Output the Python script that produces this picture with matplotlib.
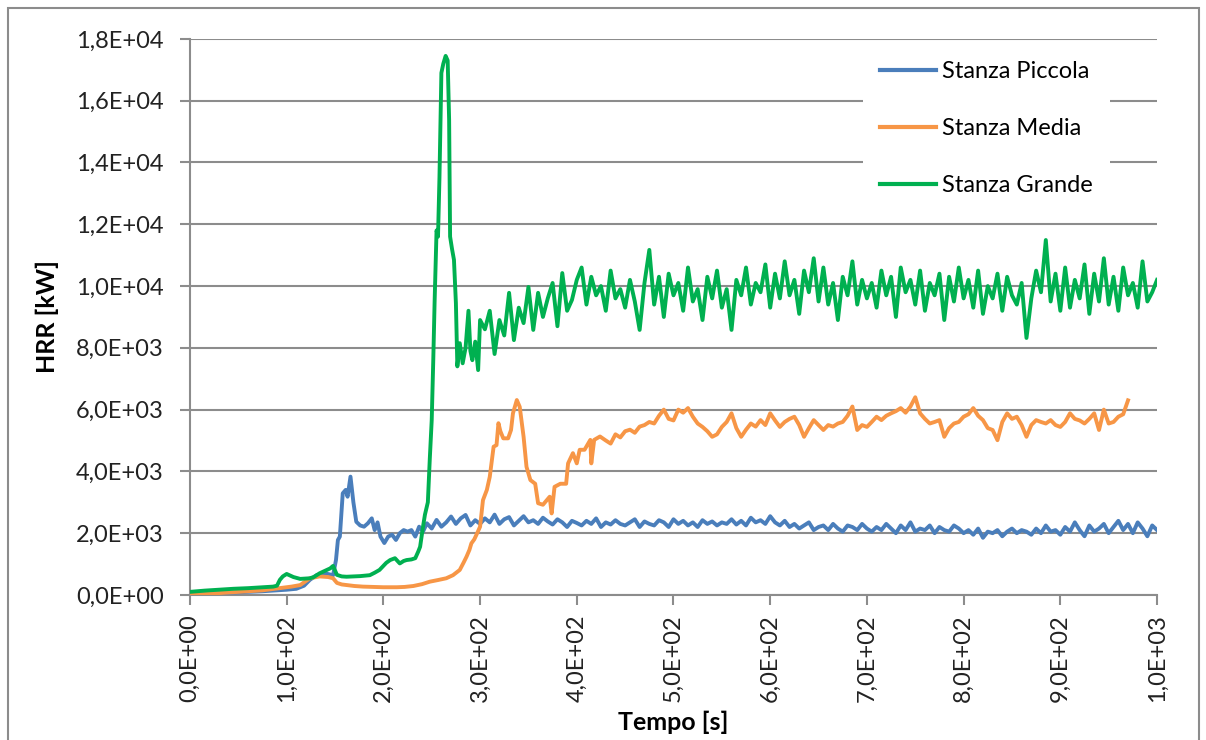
import matplotlib
matplotlib.use("Agg")
import matplotlib.pyplot as plt
from matplotlib.patches import Rectangle
from matplotlib.ticker import FuncFormatter, MultipleLocator
import numpy as np

plt.rcParams['font.family'] = ['Lato', 'DejaVu Sans']

# HRR curves [kW] vs time [s]; each series = detailed start + regular 5 s tail
# Stanza Piccola
t_piccola_a = [0, 15, 30, 45, 60, 75, 90, 100, 110, 118, 124, 131, 141, 148, 151,
               153, 155, 158, 161, 163, 166, 169, 172, 176, 180, 184, 188, 191, 194,
               197, 201, 205, 209, 213, 217, 221, 225, 229, 233, 237, 241, 245, 250]
hrr_piccola_a = [0, 30, 55, 80, 100, 120, 150, 170, 200, 300, 490, 640, 690, 640, 1130,
                 1780, 1890, 3290, 3400, 3180, 3830, 3000, 2370, 2250, 2210, 2320, 2480, 2100, 2350,
                 1890, 1680, 1890, 1950, 1780, 2000, 2100, 2050, 2100, 1890, 2210, 2050, 2320, 2150]
hrr_piccola_b = [
    2430, 2210, 2350, 2540, 2300, 2480, 2590, 2250, 2420, 2300,
    2480, 2350, 2600, 2300, 2450, 2520, 2250, 2400, 2550, 2350,
    2420, 2300, 2500, 2380, 2280, 2450, 2350, 2200, 2400, 2330,
    2250, 2400, 2300, 2480, 2200, 2350, 2280, 2420, 2300, 2250,
    2350, 2450, 2200, 2380, 2300, 2250, 2420, 2350, 2200, 2450,
    2300, 2400, 2250, 2350, 2200, 2420, 2300, 2380, 2250, 2350,
    2300, 2450, 2280, 2400, 2250, 2500, 2350, 2420, 2300, 2550,
    2350, 2250, 2400, 2200, 2300, 2150, 2250, 2350, 2100, 2200,
    2250, 2100, 2300, 2150, 2050, 2250, 2200, 2100, 2300, 2150,
    2050, 2200, 2100, 2300, 2150, 2000, 2250, 2100, 2350, 2050,
    2150, 2100, 2250, 2000, 2200, 2100, 2050, 2250, 2150, 2000,
    2100, 1950, 2150, 1850, 2050, 2000, 2100, 1900, 2050, 2150,
    2000, 2100, 2050, 1950, 2150, 2000, 2250, 2050, 2100, 1950,
    2200, 2050, 2350, 2100, 1900, 2250, 2050, 2150, 2300, 2000,
    2200, 2400, 2100, 2300, 2000, 2350, 2150, 1900, 2250, 2100,
]
t_piccola_b = np.arange(255, 1001, 5)

# Stanza Media
t_media_a = [0, 15, 30, 45, 60, 75, 93, 105, 114, 124, 134, 143, 148, 152, 157, 162,
             170, 179, 190, 200, 214, 222, 231, 240, 248, 256, 265, 272, 279, 283, 286,
             289, 291, 294, 297, 300, 303, 307, 310, 314, 317, 319, 321, 324, 329, 332,
             334, 338, 341, 345, 348, 352, 357, 360, 365, 369, 372, 374, 377, 383, 389,
             391, 396, 400, 403, 408, 414, 415, 418, 424]
hrr_media_a = [0, 30, 60, 90, 120, 150, 220, 270, 320, 540, 600, 580, 540, 390, 340, 320,
               290, 270, 260, 250, 250, 260, 290, 350, 430, 480, 540, 640, 810, 1050, 1240,
               1460, 1670, 1800, 2000, 2210, 3070, 3400, 3820, 4800, 4850, 5560, 5300, 5070, 5070, 5340,
               5880, 6310, 6090, 5120, 4150, 3720, 3600, 2970, 2920, 3070, 3180, 2640, 3500, 3600, 3600,
               4260, 4590, 4260, 4700, 4700, 5020, 4260, 5020, 5130]
hrr_media_b = [
    5000, 4900, 5200, 5100, 5300, 5350, 5250, 5450, 5500, 5600,
    5550, 5800, 6000, 5700, 5650, 6000, 5900, 6050, 5770, 5550,
    5440, 5300, 5120, 5200, 5440, 5600, 5880, 5400, 5120, 5350,
    5550, 5450, 5660, 5500, 5880, 5650, 5440, 5600, 5700, 5770,
    5500, 5120, 5400, 5660, 5500, 5340, 5500, 5450, 5550, 5600,
    5800, 6100, 5340, 5500, 5440, 5600, 5770, 5660, 5800, 5880,
    5950, 6050, 5900, 6100, 6400, 5880, 5700, 5550, 5600, 5660,
    5120, 5400, 5550, 5600, 5770, 5850, 6050, 5800, 5660, 5400,
    5340, 5010, 5600, 5880, 5700, 5770, 5500, 5120, 5500, 5660,
    5600, 5550, 5660, 5500, 5440, 5600, 5880, 5700, 5650, 5550,
    5700, 5880, 5340, 6000, 5550, 5600, 5770, 5850, 6300,
]
t_media_b = np.arange(430, 971, 5)

# Stanza Grande
t_grande_a = [0, 15, 30, 45, 60, 75, 86, 90, 93, 96,
              100, 107, 114, 124, 128, 134, 141, 145, 148, 152,
              157, 162, 170, 176, 186, 191, 196, 203, 207, 212,
              217, 221, 224, 229, 233, 236, 238, 241, 243, 246,
              248, 250, 251.6, 253, 255, 256.5, 258, 260, 262, 264.4,
              266.5, 268, 269, 271, 273, 275, 276.5, 279, 282, 285,
              288, 290, 292, 295, 298, 300]
hrr_grande_a = [100, 140, 170, 200, 220, 250, 270, 300, 490, 600,
                680, 580, 520, 540, 580, 700, 800, 860, 940, 650,
                600, 590, 600, 610, 640, 720, 810, 1040, 1130, 1190,
                1020, 1100, 1130, 1150, 1190, 1400, 1560, 2210, 2600, 3000,
                4400, 5660, 7600, 9500, 11800, 11600, 13500, 16900, 17200, 17450,
                17300, 15380, 11600, 11200, 10850, 9450, 7400, 8150, 7500, 8000,
                9200, 7900, 7600, 8200, 7280, 8900]
hrr_grande_b = [
    8600, 9200, 7800, 8900, 8400, 9780, 8250, 9300, 8800, 9970,
    8580, 9780, 9000, 9600, 10100, 8700, 10420, 9200, 9550, 10200,
    10600, 9400, 10300, 9700, 10000, 9200, 10500, 9600, 9900, 9300,
    10200, 9500, 8580, 10100, 11170, 9400, 10300, 9000, 10400, 9700,
    10100, 9200, 10600, 9500, 9900, 8900, 10300, 9600, 10500, 9300,
    9900, 8580, 10200, 9700, 10600, 9400, 10100, 9800, 10700, 9300,
    10400, 9600, 10800, 9700, 10200, 9100, 10500, 9800, 10900, 9500,
    10600, 9400, 10100, 8900, 10300, 9700, 10800, 9400, 10200, 9600,
    10100, 9300, 10500, 9700, 10300, 9000, 10600, 9800, 10200, 9400,
    10500, 9200, 10100, 9700, 10400, 8900, 10300, 9500, 10600, 9600,
    10200, 9300, 10500, 9100, 10000, 9600, 10400, 9200, 10300, 9700,
    9400, 10100, 8320, 9600, 10500, 9800, 11490, 9500, 10400, 9200,
    10600, 9300, 10200, 9600, 10700, 9100, 10400, 9500, 10900, 9400,
    10300, 9200, 10600, 9700, 10100, 9300, 10800, 9500, 9800, 10200,
]
t_grande_b = np.arange(305, 1001, 5)

labels = ['Stanza Piccola', 'Stanza Media', 'Stanza Grande']
colors = ['#4A7EBB', '#F79646', '#00B050']

t_piccola = np.concatenate([t_piccola_a, t_piccola_b])
t_media = np.concatenate([t_media_a, t_media_b])
t_grande = np.concatenate([t_grande_a, t_grande_b])
hrr_piccola = np.concatenate([hrr_piccola_a, hrr_piccola_b])
hrr_media = np.concatenate([hrr_media_a, hrr_media_b])
hrr_grande = np.concatenate([hrr_grande_a, hrr_grande_b])

fig = plt.figure(figsize=(12.06, 7.40), dpi=100)
ax = fig.add_axes([0.1575, 0.196, 0.8019, 0.7514])

# outer chart border
fig.patches.append(Rectangle((8 / 1206, -0.05), 1191 / 1206, 1.05 - 8 / 740,
                             transform=fig.transFigure, fill=False,
                             edgecolor='#8C8C8C', linewidth=1.5))

lw = 2.8
ax.plot(t_piccola, hrr_piccola, color=colors[0], lw=lw, label=labels[0], zorder=3)
ax.plot(t_media, hrr_media, color=colors[1], lw=lw, label=labels[1], zorder=3)
ax.plot(t_grande, hrr_grande, color=colors[2], lw=lw, label=labels[2], zorder=3)

ax.set_xlim(0, 1000)
ax.set_ylim(0, 18000)
ax.xaxis.set_major_locator(MultipleLocator(100))
ax.yaxis.set_major_locator(MultipleLocator(2000))

sci = FuncFormatter(lambda v, pos: f"{v:.1E}".replace('.', ','))
ax.xaxis.set_major_formatter(sci)
ax.yaxis.set_major_formatter(sci)

ax.grid(axis='y', color='#8C8C8C', linewidth=1.5, zorder=0)
ax.set_axisbelow(True)
for side in ['top', 'right']:
    ax.spines[side].set_visible(False)
for side in ['left', 'bottom']:
    ax.spines[side].set_color('#8C8C8C')
    ax.spines[side].set_linewidth(1.5)

ax.tick_params(axis='both', direction='out', length=7, width=1.5, color='#8C8C8C',
               labelsize=17, labelcolor='#222222')
ax.tick_params(axis='x', labelrotation=90, pad=7)
ax.tick_params(axis='y', pad=12)

ax.set_xlabel('Tempo [s]', fontsize=18, fontweight='bold', labelpad=6)
ax.set_ylabel('HRR [kW]', fontsize=18, fontweight='bold', labelpad=12)

leg = ax.legend(loc='upper right', bbox_to_anchor=(0.951, 0.99), fontsize=17,
                frameon=True, facecolor='white', edgecolor='none', framealpha=1,
                fancybox=False, handlelength=2.4, handletextpad=0.25,
                labelspacing=1.52, borderpad=0.7, borderaxespad=0)
for line in leg.get_lines():
    line.set_linewidth(3)

fig.savefig('out.png', dpi=100)
